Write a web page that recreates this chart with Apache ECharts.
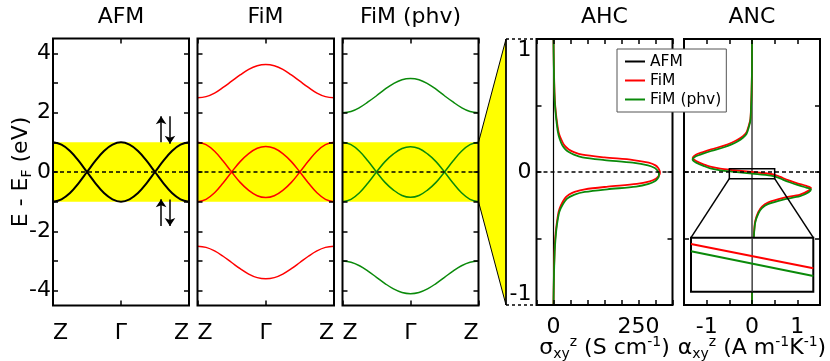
<!DOCTYPE html>
<html lang="en">
<head>
<meta charset="UTF-8">
<title>Bands, AHC and ANC</title>
<script src="https://cdn.jsdelivr.net/npm/echarts@6/dist/echarts.min.js"></script>
<style>
    html, body { margin: 0; padding: 0; background: #fff; }
    #chart { width: 830px; height: 361px; }
</style>
</head>
<body>
<div id="chart"></div>
<script type="text/javascript">
    // k path Z - Γ - Z, as a fraction of the panel width
    var kPath = [0, 0.0625, 0.125, 0.1875, 0.25, 0.3125, 0.375, 0.4375, 0.5,
                 0.5625, 0.625, 0.6875, 0.75, 0.8125, 0.875, 0.9375, 1];
    var kTickPos = [0, 0.5, 1];
    var kTickNames = ['Z', 'Γ', 'Z'];
    var energyTicks = [-4, -3, -2, -1, 0, 1, 2, 3, 4];
    var energyLabels = [-4, -2, 0, 2, 4];

    // AFM bands (eV)
    var afmBandA = [1, 0.92, 0.71, 0.38, 0, -0.38, -0.71, -0.92, -1, -0.92, -0.71, -0.38, 0, 0.38, 0.71, 0.92, 1];
    var afmBandB = [-1, -0.92, -0.71, -0.38, 0, 0.38, 0.71, 0.92, 1, 0.92, 0.71, 0.38, 0, -0.38, -0.71, -0.92, -1];
    // FiM bands
    var fimUpper = [2.5, 2.54, 2.66, 2.85, 3.06, 3.27, 3.46, 3.58, 3.62, 3.58, 3.46, 3.27, 3.06, 2.85, 2.66, 2.54, 2.5];
    var fimBandA = [1, 0.92, 0.7, 0.37, 0, -0.35, -0.62, -0.8, -0.86, -0.8, -0.62, -0.35, 0, 0.37, 0.7, 0.92, 1];
    var fimBandB = [-1, -0.92, -0.7, -0.37, 0, 0.35, 0.62, 0.8, 0.86, 0.8, 0.62, 0.35, 0, -0.37, -0.7, -0.92, -1];
    var fimLower = [-2.5, -2.54, -2.66, -2.84, -3.05, -3.26, -3.44, -3.56, -3.6, -3.56, -3.44, -3.26, -3.05, -2.84, -2.66, -2.54, -2.5];
    // FiM (phv) bands
    var phvUpper = [2, 2.04, 2.17, 2.36, 2.57, 2.79, 2.98, 3.11, 3.15, 3.11, 2.98, 2.79, 2.57, 2.36, 2.17, 2.04, 2];
    var phvBandA = [1, 0.92, 0.7, 0.37, 0, -0.35, -0.61, -0.79, -0.85, -0.79, -0.61, -0.35, 0, 0.37, 0.7, 0.92, 1];
    var phvBandB = [-1, -0.92, -0.7, -0.37, 0, 0.35, 0.61, 0.79, 0.85, 0.79, 0.61, 0.35, 0, -0.37, -0.7, -0.92, -1];
    var phvLower = [-3, -3.04, -3.16, -3.34, -3.55, -3.76, -3.94, -4.06, -4.1, -4.06, -3.94, -3.76, -3.55, -3.34, -3.16, -3.04, -3];

    // spin arrows in the AFM panel: [k, from E, to E]
    var spinArrows = [[0.795, 1.0, 1.88], [0.86, 1.88, 0.95], [0.795, -1.82, -0.92], [0.86, -0.93, -1.82]];

    // AHC, sigma_xy^z (S/cm) against E - E_F (eV)
    var ahcEnergy = [1, 0.8, 0.6, 0.5, 0.4, 0.3, 0.25, 0.2, 0.17, 0.15, 0.13, 0.11, 0.09, 0.07, 0.05, 0.03, 0.01, 0,
                     -0.01, -0.03, -0.05, -0.07, -0.09, -0.11, -0.13, -0.15, -0.17, -0.2, -0.25, -0.3, -0.4, -0.5, -0.6, -0.8, -1];
    var ahcFiM = [0, 1, 3, 5, 9, 15, 22, 32, 45, 60, 85, 150, 235, 280, 300, 308, 312, 313,
                  313, 309, 301, 283, 245, 160, 92, 62, 46, 33, 22, 15, 9, 5, 3, 1, 0];
    var ahcPhv = [0, 1, 2.5, 4.5, 8, 13, 18, 26, 35, 45, 60, 85, 150, 233, 278, 298, 306, 308,
                  310, 310, 306, 298, 280, 243, 158, 92, 62, 40, 26, 17, 10, 6, 3.5, 1.2, 0];
    var afmEnergy = [-1, 1];
    var afmZero = [0, 0];

    // ANC, alpha_xy^z (A/(m K)) against E - E_F (eV)
    var ancEnergyFiM = [1, 0.8, 0.6, 0.5, 0.4, 0.35, 0.3, 0.27, 0.24, 0.22, 0.2, 0.17, 0.15, 0.13, 0.105, 0.08, 0.055,
                        0.04, 0.025, 0.015, 0, -0.015, -0.03, -0.045, -0.065, -0.085, -0.105, -0.12, -0.14, -0.17,
                        -0.195, -0.23, -0.26, -0.3, -0.37, -0.48, -0.6, -0.8, -1];
    var ancFiM = [0, 0, -0.01, -0.02, -0.035, -0.07, -0.12, -0.2, -0.33, -0.45, -0.6, -0.9, -1.08, -1.24, -1.31, -1.22, -1.05,
                  -0.92, -0.7, -0.45, 0, 0.42, 0.58, 0.68, 0.83, 1.0, 1.2, 1.3, 1.25, 1.06,
                  0.69, 0.35, 0.22, 0.14, 0.07, 0.04, 0.02, 0.005, 0];
    var ancEnergyPhv = [1, 0.788, 0.588, 0.488, 0.388, 0.338, 0.288, 0.258, 0.228, 0.208, 0.188, 0.158, 0.138, 0.118, 0.093, 0.068, 0.043,
                        0.028, 0.013, 0.003, -0.012, -0.027, -0.042, -0.057, -0.077, -0.097, -0.117, -0.132, -0.152, -0.182,
                        -0.207, -0.242, -0.272, -0.312, -0.382, -0.492, -0.612, -0.812, -1];
    var ancPhv = [0, 0, -0.01, -0.02, -0.035, -0.07, -0.12, -0.2, -0.33, -0.45, -0.6, -0.9, -1.08, -1.24, -1.31, -1.22, -1.05,
                  -0.92, -0.7, -0.45, 0, 0.42, 0.58, 0.68, 0.83, 1.0, 1.2, 1.3, 1.25, 1.06,
                  0.69, 0.35, 0.22, 0.14, 0.07, 0.04, 0.02, 0.005, 0];

    // zoomed inset around E_F
    var insetAlpha = [-0.5, 0.5];
    var insetFiM = [0.0163, -0.0175];
    var insetPhv = [0.0061, -0.0282];
    var insetAfmEnergy = [-0.05, 0.025];

    var FONT = 'DejaVu Sans';
    var RED = '#ff0000';
    var GREEN = '#0a8a0a';

    var chart = echarts.init(document.getElementById('chart'));

    var gridBox = {show: true, borderColor: '#000', borderWidth: 2, backgroundColor: 'transparent', z: 5,
                   outerBoundsMode: 'none', containLabel: false};
    var grids = [
        {left: 53, top: 38.5, width: 136, height: 267},     // AFM
        {left: 197.5, top: 38.5, width: 136.5, height: 267}, // FiM
        {left: 342.5, top: 38.5, width: 136, height: 267},   // FiM (phv)
        {left: 536.5, top: 39, width: 136, height: 266},     // AHC
        {left: 684, top: 39, width: 136, height: 266}        // ANC
    ].map(function (g) { return Object.assign({}, gridBox, g); });
    grids.push(Object.assign({}, gridBox, {left: 691, top: 237.7, width: 122.3, height: 54,
                backgroundColor: '#fff', z: 60}));

    var tickStyle = {color: '#000', width: 1.5};
    function axis(grid, pos, min, max, extra) {
        var a = {
            type: 'value', gridIndex: grid, position: pos, min: min, max: max, z: 5,
            nameMoveOverlap: false,
            axisLine: {show: false, onZero: false}, splitLine: {show: false},
            axisTick: {show: true, inside: true, length: 5, lineStyle: tickStyle},
            axisLabel: {show: false}
        };
        return Object.assign(a, extra || {});
    }
    var labelStyle = {show: true, fontFamily: FONT, fontSize: 22, color: '#000'};

    var nameRich = {
        m: {fontFamily: FONT, fontSize: 22, lineHeight: 26, color: '#000'},
        s: {fontFamily: FONT, fontSize: 14, lineHeight: 12, verticalAlign: 'bottom', color: '#000'},
        p: {fontFamily: FONT, fontSize: 14, lineHeight: 12, verticalAlign: 'top', color: '#000'}
    };

    var xAxes = [], yAxes = [];
    for (var g = 0; g < 3; g++) {
        xAxes.push(axis(g, 'bottom', 0, 1, {
            axisTick: {show: true, inside: true, length: 5, lineStyle: tickStyle, customValues: kTickPos},
            axisLabel: Object.assign({}, labelStyle, {
                customValues: kTickPos, margin: 17, alignMinLabel: 'left', alignMaxLabel: 'right',
                formatter: function (v) { return kTickNames[kTickPos.indexOf(v)]; }
            })
        }));
        xAxes.push(axis(g, 'top', 0, 1, {
            axisTick: {show: true, inside: true, length: 5, lineStyle: tickStyle, customValues: kTickPos}
        }));
        var left = axis(g, 'left', -4.5, 4.5, {
            axisTick: {show: true, inside: true, length: 5, lineStyle: tickStyle, customValues: energyTicks}
        });
        if (g === 0) {
            left.axisLabel = Object.assign({}, labelStyle, {customValues: energyLabels, margin: 2});
            left.name = '{m|E - E}{s|F}{m| (eV)}';
            left.nameLocation = 'middle';
            left.nameRotate = 90;
            left.nameGap = 19;
            left.nameTextStyle = {rich: nameRich};
        }
        yAxes.push(left);
        yAxes.push(axis(g, 'right', -4.5, 4.5, {
            axisTick: {show: true, inside: true, length: 5, lineStyle: tickStyle, customValues: energyTicks}
        }));
    }
    // AHC
    xAxes.push(axis(3, 'bottom', -50, 350, {
        interval: 50,
        axisLabel: Object.assign({}, labelStyle, {customValues: [0, 250], margin: 11}),
        name: '{m|σ}{s|xy}{p|z}{m| (S cm}{p|-1}{m|)}', nameLocation: 'middle', nameGap: 30,
        nameTextStyle: {rich: nameRich}
    }));
    xAxes.push(axis(3, 'top', -50, 350, {interval: 50}));
    yAxes.push(axis(3, 'left', -1, 1, {
        interval: 0.5,
        axisLabel: Object.assign({}, labelStyle, {
            customValues: [-1, 0, 1], margin: 5,
            verticalAlignMinLabel: 'bottom', verticalAlignMaxLabel: 'top'
        })
    }));
    yAxes.push(axis(3, 'right', -1, 1, {interval: 0.5}));
    // ANC
    xAxes.push(axis(4, 'bottom', -1.5, 1.5, {
        interval: 0.5,
        axisLabel: Object.assign({}, labelStyle, {customValues: [-1, 0, 1], margin: 11}),
        name: '{m|α}{s|xy}{p|z}{m| (A m}{p|-1}{m|K}{p|-1}{m|)}', nameLocation: 'middle', nameGap: 30,
        nameTextStyle: {rich: nameRich}
    }));
    xAxes.push(axis(4, 'top', -1.5, 1.5, {interval: 0.5}));
    yAxes.push(axis(4, 'left', -1, 1, {interval: 0.5}));
    yAxes.push(axis(4, 'right', -1, 1, {interval: 0.5}));
    // inset
    xAxes.push(axis(5, 'bottom', -0.5, 0.5, {axisTick: {show: false}, z: 60}));
    yAxes.push(axis(5, 'left', -0.05, 0.025, {axisTick: {show: false}, z: 60}));

    var zeroLine = {
        silent: true, symbol: 'none', label: {show: false}, animation: false,
        lineStyle: {color: '#000', type: [4, 3], width: 1.5},
        data: [{yAxis: 0}]
    };
    var yellowBand = {
        silent: true, itemStyle: {color: '#ffff00'},
        data: [[{yAxis: -1}, {yAxis: 1}]]
    };

    function bandLine(name, color, width, grid, values) {
        return {
            type: 'line', name: name, xAxisIndex: grid * 2, yAxisIndex: grid * 2,
            data: kPath.map(function (k, i) { return [k, values[i]]; }),
            smooth: 0.4, symbol: 'none', silent: true,
            lineStyle: {color: color, width: width}, itemStyle: {color: color}
        };
    }
    function curve(name, color, width, axisIdx, xs, ys, z) {
        return {
            type: 'line', name: name, xAxisIndex: axisIdx, yAxisIndex: axisIdx,
            data: xs.map(function (x, i) { return [x, ys[i]]; }),
            smooth: 0.3, symbol: 'none', silent: true, z: z || 2,
            lineStyle: {color: color, width: width}, itemStyle: {color: color}
        };
    }

    var series = [];
    var panels = [
        ['AFM', '#000', 2, [afmBandA, afmBandB]],
        ['FiM', RED, 1.5, [fimBandA, fimBandB, fimUpper, fimLower]],
        ['FiM (phv)', GREEN, 1.5, [phvBandA, phvBandB, phvUpper, phvLower]]
    ];
    panels.forEach(function (p, g) {
        p[3].forEach(function (vals, j) {
            var s = bandLine(p[0], p[1], p[2], g, vals);
            if (j === 0) { s.markArea = yellowBand; s.markLine = zeroLine; }
            series.push(s);
        });
    });
    series.push({
        type: 'lines', coordinateSystem: 'cartesian2d', xAxisIndex: 0, yAxisIndex: 0,
        symbol: ['none', 'arrow'], symbolSize: 8, silent: true, z: 4,
        lineStyle: {color: '#000', width: 1.5, opacity: 1},
        data: spinArrows.map(function (a) { return {coords: [[a[0], a[1]], [a[0], a[2]]]}; })
    });

    // AHC
    var s = curve('AFM', '#000', 1.2, 6, afmZero, afmEnergy);
    s.markLine = zeroLine;
    series.push(s);
    series.push(curve('FiM', RED, 1.8, 6, ahcFiM, ahcEnergy));
    series.push(curve('FiM (phv)', GREEN, 1.8, 6, ahcPhv, ahcEnergy));
    // ANC
    s = curve('AFM', '#333', 1.4, 8, afmZero, afmEnergy);
    s.markLine = zeroLine;
    series.push(s);
    series.push(curve('FiM', RED, 1.8, 8, ancFiM, ancEnergyFiM));
    series.push(curve('FiM (phv)', GREEN, 1.8, 8, ancPhv, ancEnergyPhv));
    // inset
    s = curve('AFM', '#333', 1.4, 10, afmZero, insetAfmEnergy, 61);
    s.markLine = zeroLine;
    series.push(s);
    series.push(curve('FiM', RED, 2, 10, insetAlpha, insetFiM, 61));
    series.push(curve('FiM (phv)', GREEN, 2, 10, insetAlpha, insetPhv, 61));

    var titles = [['AFM', 121], ['FiM', 265.5], ['FiM (phv)', 410.5], ['AHC', 604.5], ['ANC', 752]].map(function (t) {
        return {
            text: t[0], left: t[1], top: 6, textAlign: 'center', padding: 0,
            textStyle: {fontFamily: FONT, fontSize: 22, fontWeight: 'normal', color: '#000'}
        };
    });

    var option = {
        animation: false,
        textStyle: {fontFamily: FONT},
        title: titles,
        legend: {
            data: ['AFM', 'FiM', 'FiM (phv)'],
            orient: 'vertical', left: 617, top: 49, icon: 'rect',
            padding: [4, 5, 4, 8], itemGap: 2, itemWidth: 20, itemHeight: 2,
            backgroundColor: '#fff', borderColor: '#555', borderWidth: 1, borderRadius: 0,
            selectedMode: false, z: 20,
            textStyle: {fontFamily: FONT, fontSize: 15.5, color: '#000', lineHeight: 17}
        },
        grid: grids,
        xAxis: xAxes,
        yAxis: yAxes,
        series: series
    };
    chart.setOption(option);

    // connector shapes: yellow wedge from the band window to the AHC axis, zoom box of the ANC inset
    function px(idx, p) { return chart.convertToPixel({xAxisIndex: idx, yAxisIndex: idx}, p); }
    var wTop = px(4, [1, 1]), wBot = px(4, [1, -1]);
    var aTop = px(6, [-50, 1]), aBot = px(6, [-50, -1]);
    var xr = 506;
    var rTL = px(8, [-0.5, 0.025]), rBR = px(8, [0.5, -0.05]);
    var iTL = px(10, [-0.5, 0.025]), iTR = px(10, [0.5, 0.025]);
    chart.setOption({
        graphic: [
            {type: 'polygon', z: 1, shape: {points: [wTop, [xr, aTop[1]], [xr, aBot[1]], wBot]},
             style: {fill: '#ffff00', stroke: '#000', lineWidth: 1}},
            {type: 'line', z: 2, shape: {x1: xr, y1: aTop[1], x2: xr, y2: aBot[1]},
             style: {stroke: '#000', lineWidth: 1.5}},
            {type: 'line', z: 2, shape: {x1: xr, y1: aTop[1], x2: aTop[0], y2: aTop[1]},
             style: {stroke: '#000', lineWidth: 1.5, lineDash: [3, 3]}},
            {type: 'line', z: 2, shape: {x1: xr, y1: aBot[1], x2: aBot[0], y2: aBot[1]},
             style: {stroke: '#000', lineWidth: 1.5, lineDash: [3, 3]}},
            {type: 'rect', z: 50, shape: {x: rTL[0], y: rTL[1], width: rBR[0] - rTL[0], height: rBR[1] - rTL[1]},
             style: {fill: 'none', stroke: '#000', lineWidth: 1.5}},
            {type: 'line', z: 50, shape: {x1: rTL[0], y1: rBR[1], x2: iTL[0], y2: iTL[1]},
             style: {stroke: '#000', lineWidth: 1.5}},
            {type: 'line', z: 50, shape: {x1: rBR[0], y1: rBR[1], x2: iTR[0], y2: iTR[1]},
             style: {stroke: '#000', lineWidth: 1.5}}
        ]
    });
</script>
</body>
</html>
